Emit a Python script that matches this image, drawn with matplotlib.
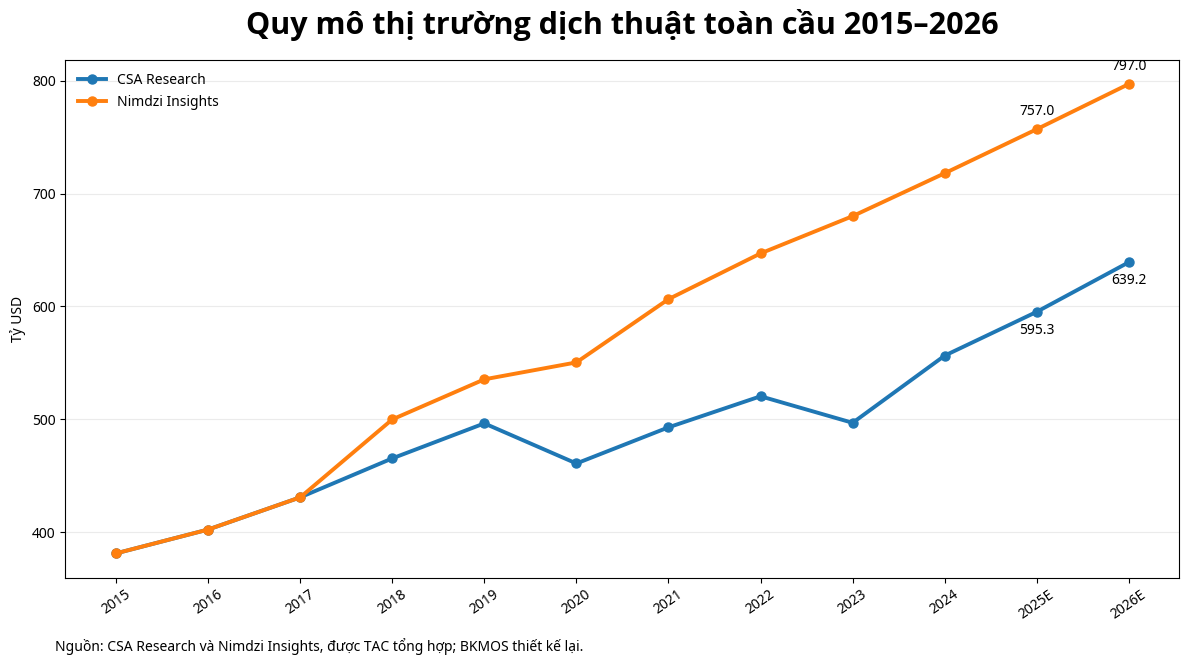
import matplotlib
matplotlib.use('Agg')
import matplotlib.pyplot as plt

plt.rcParams['font.family'] = ['Noto Sans', 'DejaVu Sans']

# dữ liệu
years = ['2015', '2016', '2017', '2018', '2019', '2020', '2021', '2022', '2023', '2024', '2025E', '2026E']
csa = [381.4, 402.5, 431.0, 465.5, 496.5, 461.0, 493.0, 520.5, 497.0, 556.5, 595.3, 639.2]
nimdzi = [381.4, 402.5, 431.0, 500.0, 535.5, 550.5, 606.5, 647.0, 680.0, 718.0, 757.0, 797.0]

fig, ax = plt.subplots(figsize=(11.89, 6.7), dpi=100)
plt.subplots_adjust(left=0.055, right=0.992, top=0.91, bottom=0.138)

x = list(range(len(years)))
ax.plot(x, csa, marker='o', linewidth=2.8, markersize=6.5, color='#1f77b4', label='CSA Research')
ax.plot(x, nimdzi, marker='o', linewidth=2.8, markersize=6.5, color='#ff7f0e', label='Nimdzi Insights')

# nhãn giá trị cho 2 năm dự báo
for i in (10, 11):
    ax.annotate(f'{nimdzi[i]:.1f}', (x[i], nimdzi[i]), xytext=(0, 7),
                textcoords='offset points', ha='center', va='bottom', fontsize=10)
    ax.annotate(f'{csa[i]:.1f}', (x[i], csa[i]), xytext=(0, -8),
                textcoords='offset points', ha='center', va='top', fontsize=10)

ax.set_xticks(x)
ax.set_xticklabels(years, rotation=35)
ax.set_xlim(-0.55, 11.55)
ax.set_ylim(360, 818)
ax.set_yticks([400, 500, 600, 700, 800])
ax.set_ylabel('Tỷ USD', fontsize=10)
ax.yaxis.grid(True, color='#ebebeb', linewidth=0.8)
ax.set_axisbelow(True)
ax.tick_params(labelsize=10)

ax.set_title('Quy mô thị trường dịch thuật toàn cầu 2015–2026', fontsize=22, fontweight='bold',
             family=['Open Sans', 'Noto Sans', 'DejaVu Sans'], pad=19)
ax.legend(loc='upper left', frameon=False, fontsize=10)

fig.text(0.046, 0.028, 'Nguồn: CSA Research và Nimdzi Insights, được TAC tổng hợp; BKMOS thiết kế lại.', fontsize=10)

fig.savefig('out.png', dpi=100)
